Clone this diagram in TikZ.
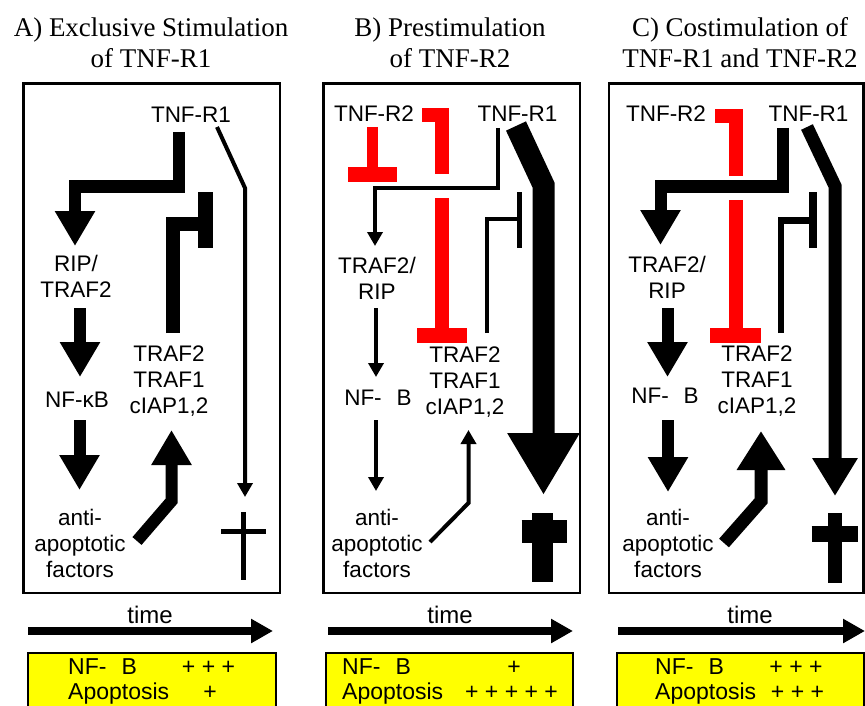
\documentclass[tikz,border=0pt]{standalone}
\usepackage{fontspec}
\setmainfont{Liberation Serif}
\setsansfont{Liberation Sans}
\usetikzlibrary{arrows.meta}
\definecolor{ybox}{RGB}{255,255,0}
\definecolor{ired}{RGB}{255,0,0}
\begin{document}
\begin{tikzpicture}[x=1pt,y=-1pt,
 lbl/.style={font=\sffamily\fontsize{22.5}{26}\selectfont, align=center, inner sep=0pt},
 ttl/.style={font=\rmfamily\fontsize{27}{31}\selectfont, align=center, inner sep=0pt},
 tm/.style={font=\sffamily\fontsize{24}{26}\selectfont, inner sep=0pt},
 ytxt/.style={font=\sffamily\fontsize{23}{24}\selectfont, inner sep=0pt},
 panel/.style={draw, line width=2.5pt},
 ybx/.style={draw, line width=2pt, fill=ybox},
 bigA/.style={line width=12pt, -{Triangle[length=35pt,width=38pt]}},
 thinA/.style={line width=4pt, -{Triangle[length=14pt,width=15pt]}},
 timeA/.style={line width=7.5pt, -{Triangle[length=22pt,width=23pt]}},
 inh/.style={draw=ired, line width=14pt},
 solidbar/.style={draw=black},
]
\useasboundingbox (0,0) rectangle (865,706);

% ---------- titles
\node[ttl] (titleA) at (151,42.5) {A) Exclusive Stimulation\\of TNF-R1};
\node[ttl] (titleB) at (450,42.5) {B) Prestimulation\\of TNF-R2};
\node[ttl] (titleC) at (740,42.5) {C) Costimulation of\\TNF-R1 and TNF-R2};

% ---------- panels
\draw[panel] (23.5,83.5) rectangle (280,593);
\draw[panel] (323.5,83.5) rectangle (580,593);
\draw[panel] (609,83.5) rectangle (863.5,593);

% ================= Panel A
\node[lbl, anchor=base] (aR1) at (191,123) {TNF-R1};
\node[lbl] (aRIP) at (76,276) {RIP/\\TRAF2};
\node[lbl, anchor=base] (aNF) at (77,407) {NF-κB};
\node[lbl] (aTRAF) at (169,381) {TRAF2\\TRAF1\\cIAP1,2};
\node[lbl] (aAnti) at (80,543) {anti-\\apoptotic\\factors};

\draw[bigA] (179,132) -- (179,186.5) -- (75,186.5) -- (75,246);
\draw[bigA] (80,308) -- (80,377);
\draw[bigA] (79.5,420) -- (79.5,490);
\draw[bigA] (137,541) -- (171.5,501) -- (171.5,430);
\draw[solidbar, line width=14pt] (172.5,333) -- (172.5,223.5) -- (205,223.5);
\draw[solidbar, line width=15pt] (205.5,192) -- (205.5,248);
\draw[thinA] (217,127) -- (245,188) -- (245,497);
\draw[solidbar, line width=5pt] (243.5,512) -- (243.5,580);
\draw[solidbar, line width=5pt] (221,531) -- (266,531);

\draw[timeA] (28,631) -- (273,631);
\node[tm, anchor=base] (timeA) at (150,623) {time};
\draw[ybx] (28,653) rectangle (275.5,712);
\node[ytxt, anchor=base west] (yA1) at (68,674) {NF-\hspace{15pt}B};
\node[ytxt, anchor=base] (yA1p) at (208.5,674) {+ + +};
\node[ytxt, anchor=base west] (yA2) at (68,699) {Apoptosis};
\node[ytxt, anchor=base] (yA2p) at (210,699) {+};

% ================= Panel B
\node[lbl, anchor=base] (bR2) at (374,122) {TNF-R2};
\node[lbl, anchor=base] (bR1) at (517.5,122) {TNF-R1};
\node[lbl] (bRIP) at (377,278) {TRAF2/\\RIP};
\node[lbl, anchor=base] (bNF) at (378,405) {NF-\hspace{15pt}B};
\node[lbl] (bTRAF) at (465,382) {TRAF2\\TRAF1\\cIAP1,2};
\node[lbl] (bAnti) at (377,543) {anti-\\apoptotic\\factors};

\draw[inh, line width=11.5pt] (372.5,127) -- (372.5,174.5);
\draw[inh, line width=15pt] (348,174.5) -- (397,174.5);
\draw[inh] (422,115.5) -- (442,115.5) -- (442,174);
\draw[inh] (442,198) -- (442,335.5);
\draw[inh, line width=15pt] (417,335.5) -- (467,335.5);

\draw[thinA] (498,128) -- (498,187.5) -- (375,187.5) -- (375,246);
\draw[thinA] (376,308) -- (376,377);
\draw[thinA] (376,420) -- (376,491);
\draw[thinA] (430,542) -- (468.5,503) -- (468.5,430);
\draw[solidbar, line width=4pt] (487,333) -- (487,219) -- (519.5,219);
\draw[solidbar, line width=4.5pt] (519.5,192) -- (519.5,248);

\draw[line width=22pt, -{Triangle[length=62pt,width=68pt]}] (516,126) -- (543.5,185) -- (543.5,495);
\draw[solidbar, line width=21.5pt] (542.5,513) -- (542.5,582);
\draw[solidbar, line width=23pt] (521.7,531.5) -- (566.7,531.5);

\draw[timeA] (328,631) -- (573,631);
\node[tm, anchor=base] (timeB) at (450,623) {time};
\draw[ybx] (325.5,653) rectangle (573,712);
\node[ytxt, anchor=base west] (yB1) at (342,674) {NF-\hspace{15pt}B};
\node[ytxt, anchor=base] (yB1p) at (514,674) {+};
\node[ytxt, anchor=base west] (yB2) at (342,699) {Apoptosis};
\node[ytxt, anchor=base] (yB2p) at (511.5,699) {+ + + + +};

% ================= Panel C
\node[lbl, anchor=base] (cR2) at (666,122) {TNF-R2};
\node[lbl, anchor=base] (cR1) at (808.5,122) {TNF-R1};
\node[lbl] (cRIP) at (667,277) {TRAF2/\\RIP};
\node[lbl, anchor=base] (cNF) at (665,403) {NF-\hspace{15pt}B};
\node[lbl] (cTRAF) at (757,381) {TRAF2\\TRAF1\\cIAP1,2};
\node[lbl] (cAnti) at (668,543) {anti-\\apoptotic\\factors};

\draw[inh] (715,116) -- (736,116) -- (736,176);
\draw[inh] (736,200) -- (736,335.5);
\draw[inh, line width=15pt] (710,335.5) -- (761,335.5);

\draw[bigA] (783,128) -- (783,186.5) -- (660.5,186.5) -- (660.5,245);
\draw[bigA] (667.5,308) -- (667.5,377);
\draw[bigA] (668,420) -- (668,492);
\draw[line width=13pt, -{Triangle[length=39pt,width=46pt]}] (724,543) -- (761,501) -- (761,431);
\draw[solidbar, line width=6.5pt] (781,333) -- (781,220.5) -- (813,220.5);
\draw[solidbar, line width=7.5pt] (813,192) -- (813,248);
\draw[line width=13pt, -{Triangle[length=38pt,width=43pt]}] (807,127) -- (835,186) -- (835,496);
\draw[solidbar, line width=13.5pt] (835,513) -- (835,583);
\draw[solidbar, line width=15.5pt] (811.7,534) -- (858.3,534);

\draw[timeA] (618,631) -- (865,631);
\node[tm, anchor=base] (timeC) at (750,623) {time};
\draw[ybx] (616.5,653) rectangle (864,712);
\node[ytxt, anchor=base west] (yC1) at (655,674) {NF-\hspace{15pt}B};
\node[ytxt, anchor=base] (yC1p) at (796,674) {+ + +};
\node[ytxt, anchor=base west] (yC2) at (655,699) {Apoptosis};
\node[ytxt, anchor=base] (yC2p) at (797.5,699) {+ + +};
\end{tikzpicture}
\end{document}
